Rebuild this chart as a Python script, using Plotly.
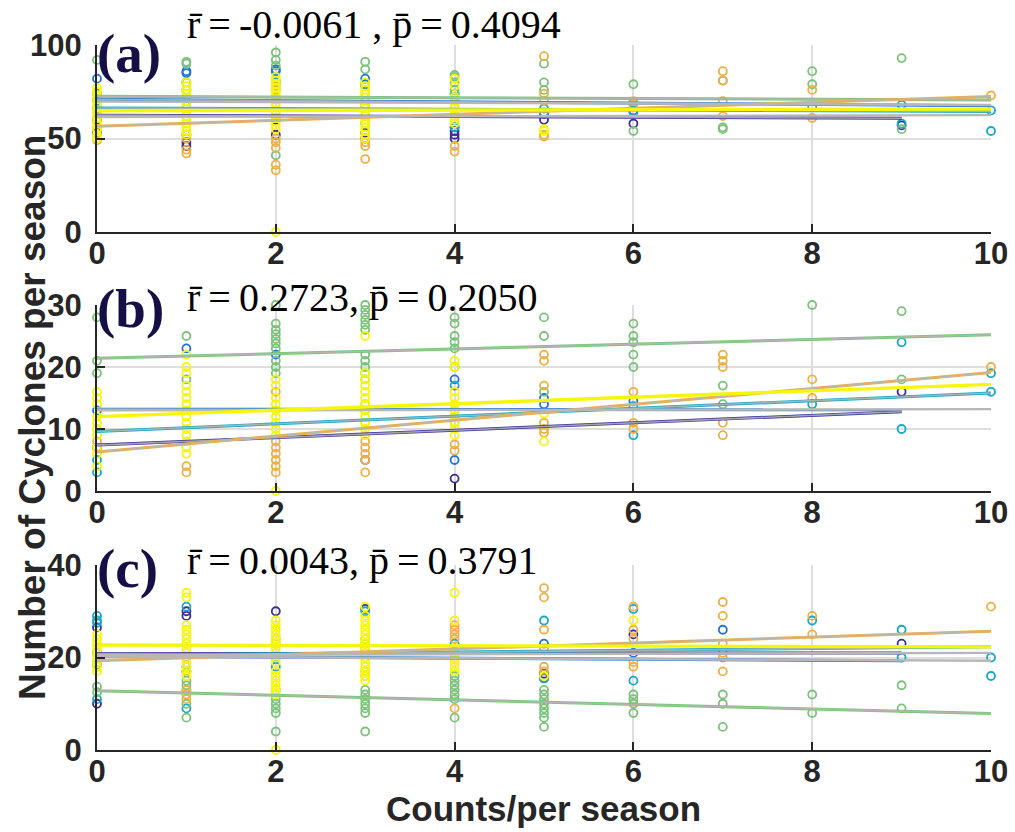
import plotly.graph_objects as go

# ---------------- data ----------------
X_TICKS = [0, 2, 4, 6, 8, 10]
SERIES = ["m1", "m2", "m3", "m4", "m5", "m6"]

# panel (a): cyclones per season vs counts per season
a_m1 = {0: [53, 60], 1: [46, 48, 52], 2: [52, 60], 3: [50, 53], 4: [50, 52, 54], 5: [60], 6: [58], 9: [57]}
a_m2 = {0: [82, 71], 1: [86, 85, 80], 2: [87, 86], 3: [82, 79], 4: [56, 72], 5: [63], 6: [65]}
a_m3 = {0: [74, 66], 1: [76, 70], 2: [80, 72], 3: [78, 68, 58], 4: [74, 56], 5: [66, 64], 6: [69, 64],
        8: [67], 9: [68, 58], 10: [65, 54]}
a_m4 = {0: [92], 1: [91, 90], 2: [96, 92, 89, 81, 41], 3: [91, 87], 4: [84, 83, 80, 76, 74], 5: [90, 80, 76],
        6: [79, 54], 7: [81, 55, 56], 8: [86, 79], 9: [93, 55]}
a_m5 = {0: [49, 55], 1: [42, 44, 50], 2: [36, 33, 45, 48, 50, 76, 78], 3: [48, 46, 39, 74], 4: [46, 43, 70, 66],
        5: [94, 74, 51, 52, 70], 6: [70, 68], 7: [86, 81, 70, 62], 8: [76, 61], 10: [73]}
a_m6 = {0: [77, 50, 52, 55, 57, 59, 61, 63, 65, 67, 69, 71, 73, 75],
        1: [52, 54, 56, 58, 60, 62, 64, 66, 68, 70, 72, 74, 76, 78, 80],
        2: [0, 55, 57, 59, 61, 63, 65, 67, 69, 71, 73, 75, 77, 79, 81, 83],
        3: [50, 52, 54, 56, 58, 60, 62, 64, 66, 68, 70, 72, 74, 76, 78, 80],
        4: [82, 58, 60, 62, 64, 66, 68, 70, 72, 78], 5: [55, 54]}
a_fit_start = [62.5, 71.0, 66.3, 72.6, 56.5, 64.8]
a_fit_end = [60.8, 67.5, 64.5, 70.6, 72.5, 65.8]
a_fit_xmax = [9, 10, 10, 10, 10, 10]
a_ref_start = [61.5, 69.8]
a_ref_end = [62.5, 68.0]
a_stats = "r\u0304\u2009=\u2009-0.0061 , p\u0304\u2009=\u20090.4094"

# panel (b)
b_m1 = {0: [7], 4: [2], 9: [16]}
b_m2 = {0: [13], 1: [23], 2: [22], 3: [5], 4: [5, 18], 5: [15, 14], 6: [14.5]}
b_m3 = {0: [5, 3], 4: [17], 6: [13.7, 9], 8: [14], 9: [24, 10], 10: [19, 16]}
b_m4 = {0: [28, 21, 19], 1: [25, 18], 2: [30, 27, 26, 25.3, 24.5, 23.8, 23, 21, 20, 19],
        3: [30, 29.2, 28.4, 27.6, 26.8, 26, 22, 21, 20, 19, 18], 4: [28, 27, 25, 24, 23, 20],
        5: [28, 25, 16], 6: [27, 25, 24, 22, 20], 7: [17, 14], 8: [30], 9: [29, 18]}
b_m5 = {0: [8], 1: [4, 3], 2: [16, 8, 7, 6, 5, 4, 3], 3: [14, 13, 8, 7, 6, 5, 3], 4: [13, 12, 11, 7.5, 6.5],
        5: [22, 21, 17, 11, 10, 9.4], 6: [16, 11, 10], 7: [22, 21, 20, 11, 9], 8: [18, 15], 10: [20]}
b_m6 = {0: [16, 15, 14, 12, 11, 10, 9, 7, 6, 4],
        1: [22, 20, 19, 17, 16, 15, 14, 13, 12, 11, 10, 9, 8, 7, 6],
        2: [0, 18, 17, 15, 14, 13, 12, 11, 10, 9],
        3: [25, 19, 18, 17, 16, 15, 14, 13, 12, 11, 10, 9],
        4: [21, 20, 16, 15, 14, 13, 12, 11, 10, 9], 5: [12.5, 8]}
b_fit_start = [7.4, 13.2, 9.6, 21.4, 6.3, 12.0]
b_fit_end = [12.8, 13.1, 15.8, 25.2, 19.1, 17.2]
b_fit_xmax = [9, 9, 10, 10, 10, 10]
b_ref_start = [13.0]
b_ref_end = [13.2]
b_stats = "r\u0304\u2009=\u20090.2723, p\u0304\u2009=\u20090.2050"

# panel (c)
c_m1 = {0: [26.5, 10], 1: [30, 29, 17], 2: [30], 3: [30.5], 5: [16.5, 15.5], 6: [25], 9: [23]}
c_m2 = {0: [21], 1: [20], 2: [20], 5: [23], 6: [21], 7: [26]}
c_m3 = {0: [29, 28, 27.5, 18.5, 11], 1: [31, 9, 18], 2: [18], 3: [30], 4: [23], 5: [28, 15.5],
        6: [30.5, 15], 8: [28], 9: [26, 20], 10: [20, 16]}
c_m4 = {0: [13.7, 12.5], 1: [15, 14, 13, 10, 7], 2: [11, 10, 9, 8, 4], 3: [13, 12, 11, 10, 9, 8, 4],
        4: [16, 15, 14, 13, 12, 11, 7], 5: [13, 12, 11, 10, 9, 8, 7, 5], 6: [12, 11, 10, 8],
        7: [12, 10, 5], 8: [12, 8], 9: [14, 9]}
c_m5 = {0: [19], 1: [13, 12, 11], 2: [24, 23, 13], 3: [24, 23, 22, 17, 16], 4: [27, 26, 25, 24, 9],
        5: [35, 33, 26, 22, 18, 17], 6: [31, 26, 24, 19, 18], 7: [32, 29, 23, 21, 20, 17], 8: [29, 25], 10: [31]}
c_m6 = {0: [25, 24, 23, 22, 21, 20, 19, 18, 17],
        1: [34, 33, 27, 26, 25, 24, 23, 22, 21, 20, 19, 18, 17, 16],
        2: [0, 28, 27, 26, 25, 24, 23, 22, 21, 20, 19, 17, 16, 15, 14, 13, 12],
        3: [31, 29, 28, 27, 26, 25, 24, 23, 22, 21, 20, 19, 18, 17, 16, 15],
        4: [34, 28, 21, 20, 19, 18, 17], 5: [16], 6: [28]}
c_fit_start = [20.8, 20.3, 20.4, 12.8, 19.3, 22.7]
c_fit_end = [21.0, 19.3, 22.3, 7.9, 25.7, 22.3]
c_fit_xmax = [9, 9, 10, 10, 10, 10]
c_ref_start = [20.5, 20.2]
c_ref_end = [21.0, 19.3]
c_stats = "r\u0304\u2009=\u20090.0043, p\u0304\u2009=\u20090.3791"

# ---------------- styling ----------------
COLORS = {"m1": "#3b2f97", "m2": "#1c74dc", "m3": "#16a9c9",
          "m4": "#7bc27a", "m5": "#efb043", "m6": "#f6f60c"}
GRAY = "#b7b7b7"
AXIS_COLOR = "#262626"
GRID_COLOR = "#dedede"
W, H = 1015, 832
PLOT_L, PLOT_R = 97, 991


def py(p):
    return 1 - p / H


def px(p):
    return (p - PLOT_L) / (PLOT_R - PLOT_L)


panels = [
    dict(label="(a)", stats=a_stats, pts=[a_m1, a_m2, a_m3, a_m4, a_m5, a_m6],
         fs=a_fit_start, fe=a_fit_end, fx=a_fit_xmax, rs=a_ref_start, re=a_ref_end,
         yrange=[0, 100], yticks=[0, 50, 100], top=45, bottom=232, label_y=54, stats_y=24),
    dict(label="(b)", stats=b_stats, pts=[b_m1, b_m2, b_m3, b_m4, b_m5, b_m6],
         fs=b_fit_start, fe=b_fit_end, fx=b_fit_xmax, rs=b_ref_start, re=b_ref_end,
         yrange=[0, 30], yticks=[0, 10, 20, 30], top=305, bottom=491, label_y=308, stats_y=298),
    dict(label="(c)", stats=c_stats, pts=[c_m1, c_m2, c_m3, c_m4, c_m5, c_m6],
         fs=c_fit_start, fe=c_fit_end, fx=c_fit_xmax, rs=c_ref_start, re=c_ref_end,
         yrange=[0, 40], yticks=[0, 20, 40], top=565, bottom=750, label_y=568, stats_y=560),
]

fig = go.Figure()
annotations = []
tick_font = dict(family="Liberation Sans, Arial, sans-serif", size=31, color=AXIS_COLOR, weight="bold")

for i, p in enumerate(panels):
    suffix = "" if i == 0 else str(i + 1)
    xa, ya = "x" + suffix, "y" + suffix

    # scatter points for each series
    for name, pts in zip(SERIES, p["pts"]):
        xs, ys = [], []
        for xv, yl in pts.items():
            for yv in yl:
                xs.append(xv)
                ys.append(yv)
        fig.add_trace(go.Scatter(
            x=xs, y=ys, mode="markers", xaxis=xa, yaxis=ya, showlegend=False, cliponaxis=False,
            marker=dict(symbol="circle-open", size=8, color=COLORS[name], line=dict(width=1.8)),
        ))

    # fitted trend line per series: colour underneath, grey overlay on top
    for name, y0, y1, xm in zip(SERIES, p["fs"], p["fe"], p["fx"]):
        if name == "m6":
            continue
        fig.add_trace(go.Scatter(x=[0, xm], y=[y0, y1], mode="lines", xaxis=xa, yaxis=ya,
                                 showlegend=False, line=dict(color=COLORS[name], width=3)))
        fig.add_trace(go.Scatter(x=[0, xm], y=[y0, y1], mode="lines", xaxis=xa, yaxis=ya,
                                 showlegend=False, opacity=0.85, line=dict(color=GRAY, width=1.6)))
    for y0, y1 in zip(p["rs"], p["re"]):
        fig.add_trace(go.Scatter(x=[0, 10], y=[y0, y1], mode="lines", xaxis=xa, yaxis=ya,
                                 showlegend=False, line=dict(color=GRAY, width=2.4)))
    k = SERIES.index("m6")
    fig.add_trace(go.Scatter(x=[0, p["fx"][k]], y=[p["fs"][k], p["fe"][k]], mode="lines",
                             xaxis=xa, yaxis=ya, showlegend=False,
                             line=dict(color=COLORS["m6"], width=3.4)))

    axis_common = dict(showline=True, linecolor=AXIS_COLOR, linewidth=2, ticks="inside",
                       ticklen=8, tickwidth=2, tickcolor=AXIS_COLOR, showgrid=True,
                       gridcolor=GRID_COLOR, gridwidth=1.5, zeroline=False, tickfont=tick_font,
                       automargin=False)
    fig.layout["xaxis" + suffix] = dict(
        axis_common, domain=[0, 1], anchor=ya, range=[0, 10], tickvals=X_TICKS, ticklabelstandoff=-7)
    fig.layout["yaxis" + suffix] = dict(
        axis_common, domain=[py(p["bottom"]), py(p["top"])], anchor=xa, range=p["yrange"],
        tickvals=p["yticks"], ticklabelstandoff=7)

    annotations.append(dict(
        text=p["label"], xref="paper", yref="paper", x=px(95), y=py(p["label_y"]),
        xanchor="left", yanchor="middle", showarrow=False,
        font=dict(family="Liberation Serif, Times New Roman, serif", size=55, color="#150f45", weight="bold")))
    annotations.append(dict(
        text=p["stats"], xref="paper", yref="paper", x=px(185), y=py(p["stats_y"]),
        xanchor="left", yanchor="middle", showarrow=False,
        font=dict(family="Liberation Serif, Times New Roman, serif", size=40, color="#000000")))

annotations.append(dict(
    text="Number of Cyclones per season", xref="paper", yref="paper", x=px(32), y=py(418),
    xanchor="center", yanchor="middle", textangle=-90, showarrow=False,
    font=dict(family="Liberation Sans, Arial, sans-serif", size=37, color=AXIS_COLOR, weight="bold")))
annotations.append(dict(
    text="Counts/per season", xref="paper", yref="paper", x=px(543), y=py(808),
    xanchor="center", yanchor="middle", showarrow=False,
    font=dict(family="Liberation Sans, Arial, sans-serif", size=35, color=AXIS_COLOR, weight="bold")))

fig.update_layout(
    width=W, height=H, margin=dict(l=PLOT_L, r=W - PLOT_R, t=0, b=0, autoexpand=False),
    paper_bgcolor="white", plot_bgcolor="white", annotations=annotations,
)

fig.write_html("out.html")
